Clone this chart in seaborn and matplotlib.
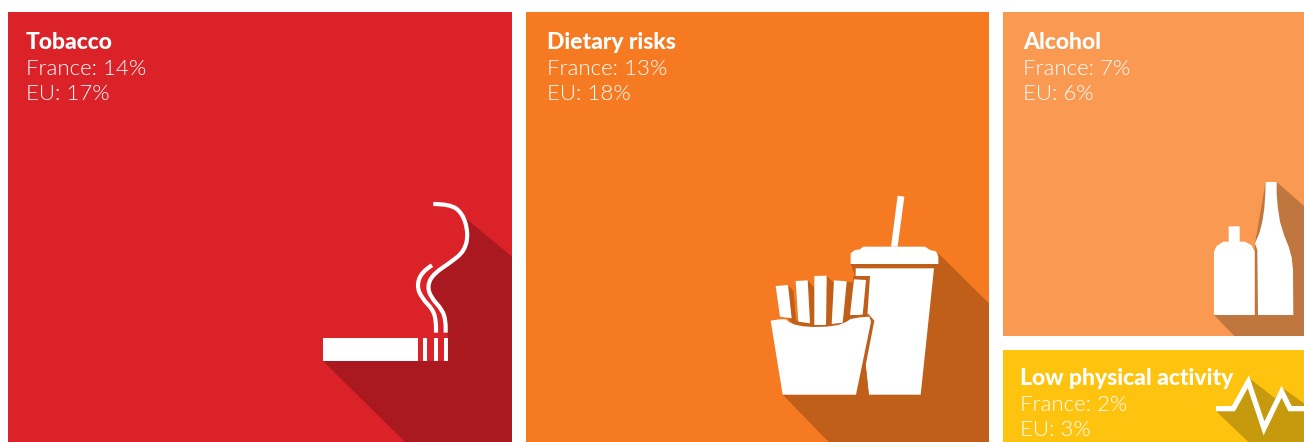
"""
Risk factor treemap: tile area follows the French share, icons sit on top.
"""

import matplotlib

matplotlib.use("Agg")

import matplotlib.pyplot as plt
import numpy as np
import seaborn as sns
from matplotlib.patches import Polygon, PathPatch
from matplotlib.path import Path

# Data
risks = ["Tobacco", "Dietary risks", "Alcohol", "Low physical activity"]
france = [14.0, 12.87, 7.0, 2.0]
eu = [17, 18, 6, 3]

# Layout, in pixels of the 1304x442 canvas
PX_PER_POINT = 36.0
LEFT = 8.0
TOP = 12.0
GAP = 14.0
TILE_H = 430.6
V_GAP = 14.0

tile_colors = ["#db2228", "#f67a22", "#f99952", "#fec30f"]
shadow_colors = ["#a9191f", "#bf5f1a", "#c0763f", "#c69a0c"]
text_dx = [18, 21, 20, 17]
text_dy = [37, 37, 37, 35]

sns.set_theme(style="white")
plt.rcParams["font.family"] = ["Lato", "DejaVu Sans"]

fig = plt.figure(figsize=(13.04, 4.42), dpi=100)
ax = fig.add_axes([0, 0, 1, 1])


def tile(left, top, width, height, color):
    sns.barplot(
        x=[left + width / 2],
        y=[height],
        width=width,
        bottom=top,
        native_scale=True,
        color=color,
        saturation=1,
        linewidth=0,
        ax=ax,
    )


def zoomed(origin, pts):
    return np.array(pts) / 3.0 + np.array(origin)


def poly(origin, pts, color):
    ax.add_patch(Polygon(zoomed(origin, pts), closed=True, facecolor=color, linewidth=0))


def smooth(origin, pts, lw=3.0):
    # Quadratic curve through the midpoints of the control points
    p = zoomed(origin, pts)
    verts = [p[0]]
    codes = [Path.MOVETO]
    for i in range(1, len(p) - 1):
        verts += [p[i], (p[i] + p[i + 1]) / 2]
        codes += [Path.CURVE3, Path.CURVE3]
    verts.append(p[-1])
    codes.append(Path.LINETO)
    ax.add_patch(PathPatch(Path(verts, codes), fill=False, edgecolor="white", linewidth=lw, capstyle="butt"))


# Tiles: two full height columns, then a column split between the last two risks
col_w = [france[0] * PX_PER_POINT, france[1] * PX_PER_POINT, (france[2] + france[3]) * PX_PER_POINT]
col_x = [LEFT, LEFT + col_w[0] + GAP, LEFT + col_w[0] + col_w[1] + 2 * GAP]
stack_h = (TILE_H - V_GAP) / (france[2] + france[3])
alcohol_h = france[2] * stack_h
low_h = france[3] * stack_h

boxes = [
    (col_x[0], TOP, col_w[0], TILE_H),
    (col_x[1], TOP, col_w[1], TILE_H),
    (col_x[2], TOP, col_w[2], alcohol_h),
    (col_x[2], TOP + alcohol_h + V_GAP, col_w[2], low_h),
]
for box, color in zip(boxes, tile_colors):
    tile(*box, color)

# Tobacco icon
o = (300, 190)
poly(o, [(69, 513), (315, 756), (636, 756), (636, 200), (485, 75), (503, 130), (490, 175), (410, 250), (388, 280),
         (392, 315), (420, 355), (437, 395), (444, 440), (444, 513)], shadow_colors[0])
poly(o, [(69, 444), (354, 444), (354, 513), (69, 513)], "white")
for x0, x1 in [(370, 382), (402, 413), (433, 444)]:
    poly(o, [(x0, 444), (x1, 444), (x1, 513), (x0, 513)], "white")
smooth(o, [(400, 42), (450, 42), (488, 70), (505, 130), (494, 182), (455, 215), (402, 250), (382, 285),
           (392, 322), (428, 360), (437, 395), (437, 428)])
smooth(o, [(396, 226), (365, 245), (350, 288), (366, 325), (400, 360), (408, 395), (408, 428)])

# Dietary icon
o = (760, 190)
poly(o, [(68, 614), (206, 756), (687, 756), (687, 340), (535, 190), (535, 222), (272, 222), (287, 262), (320, 614)],
     shadow_colors[1])
# Short shadows beside the fries
for a, b, c, d in [((84, 285), (100, 302), (108, 392), (94, 392)),
                   ((143, 271), (165, 295), (165, 405), (150, 402)),
                   ((200, 257), (222, 280), (222, 405), (198, 405)),
                   ((260, 274), (285, 280), (275, 385), (248, 398))]:
    poly(o, [a, b, c, d], shadow_colors[1])
fries = [
    [(47, 288), (84, 285), (95, 385), (60, 380)],
    [(107, 273), (143, 271), (150, 400), (115, 395)],
    [(163, 258), (200, 257), (198, 405), (163, 405)],
    [(222, 271), (260, 274), (248, 398), (215, 402)],
]
poly(o, [(413, 17), (433, 20), (413, 170), (393, 170)], "white")
poly(o, [(272, 190), (285, 180), (300, 178), (310, 170), (495, 170), (510, 180), (528, 184), (535, 200), (535, 222),
         (272, 222)], "white")
poly(o, [(287, 235), (522, 235), (482, 614), (327, 614), (316, 515), (287, 515)], "white")
poly(o, [(280, 258), (330, 258), (322, 378), (268, 378)], shadow_colors[1])
poly(o, [(282, 268), (318, 270), (308, 375), (270, 375)], "white")
# Dark rim behind the carton
poly(o, [(78, 378), (100, 390), (160, 398), (230, 394), (262, 378), (325, 372), (343, 392), (300, 614), (280, 614)],
     shadow_colors[1])
poly(o, [(290, 614), (326, 614), (316, 515)], shadow_colors[1])
for fry in fries:
    poly(o, fry, "white")
poly(o, [(32, 392), (58, 388), (78, 388), (88, 397), (105, 404), (130, 409), (160, 411), (200, 410), (235, 405), (258, 396),
         (272, 387), (300, 382), (328, 380), (333, 395), (288, 614), (68, 614)], "white")

# Alcohol icon
o = (1000, 170)
poly(o, [(642, 435), (703, 498), (912, 498), (912, 108), (830, 36), (797, 36), (765, 220), (764, 435)], shadow_colors[2])
poly(o, [(642, 435), (642, 245), (650, 228), (670, 215), (686, 215), (686, 169), (719, 169), (719, 215), (735, 215),
         (755, 226), (764, 245), (764, 435)], "white")
poly(o, [(797, 36), (830, 36), (830, 70), (833, 110), (840, 155), (852, 195), (866, 230), (875, 262), (879, 300), (880, 435),
         (774, 435), (772, 240), (765, 220), (778, 190), (787, 155), (793, 115), (796, 70)], "white")

# Activity icon
poly(o, [(648, 723), (745, 816), (912, 816), (912, 700), (845, 652), (825, 685), (745, 622), (700, 710)], shadow_colors[3])
pulse = zoomed(o, [(648, 716), (700, 716), (745, 635), (792, 775), (845, 665), (870, 716), (912, 716)])
ax.plot(pulse[:, 0], pulse[:, 1], color="white", linewidth=3.8, solid_joinstyle="miter", solid_capstyle="butt")

# Text
for name, fr, e, box, dx, dy in zip(risks, france, eu, boxes, text_dx, text_dy):
    x = box[0] + dx
    y = box[1] + dy
    ax.text(x, y, name, color="white", fontsize=16.5, fontweight=900)
    ax.text(x, y + 26, f"France: {fr:.0f}%", color="white", fontsize=16, fontweight=300)
    ax.text(x, y + 51, f"EU: {e}%", color="white", fontsize=16, fontweight=300)

ax.set_xlim(0, 1304)
ax.set_ylim(442, 0)
ax.axis("off")

fig.savefig("out.png", dpi=100, facecolor="white")
